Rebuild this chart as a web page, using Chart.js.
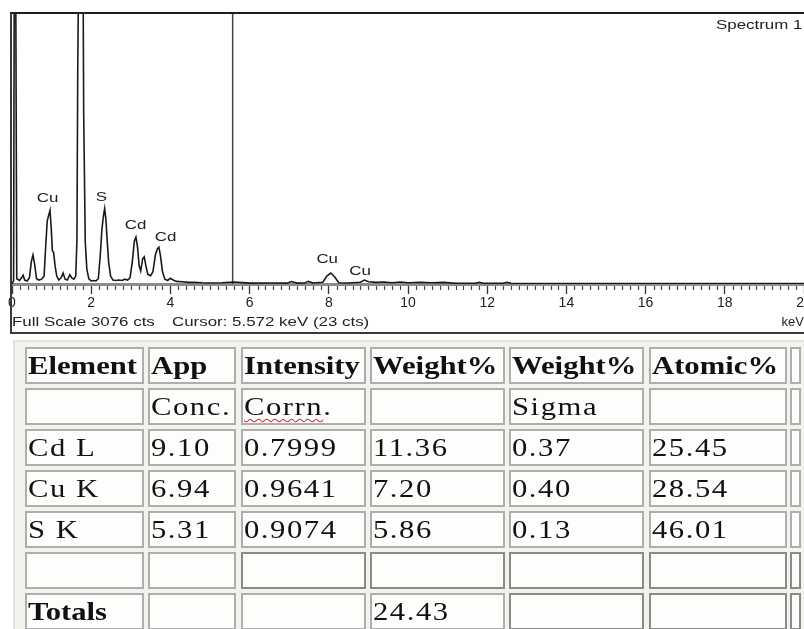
<!DOCTYPE html>
<html>
<head>
<meta charset="utf-8">
<script src="https://cdn.jsdelivr.net/npm/chart.js@4.4.1/dist/chart.umd.min.js"></script>
<style>
html,body{margin:0;padding:0;background:#fff;}
body{width:804px;height:629px;overflow:hidden;position:relative;font-family:"Liberation Sans",Arial,sans-serif;}
#chartWrap{position:absolute;left:0;top:0;width:804px;height:336px;overflow:hidden;}
#c{position:absolute;left:0;top:0;}
#frame{position:absolute;left:10px;top:12px;width:820px;height:318px;border-top:2px solid #1e1e1e;border-left:2px solid #3a3a3a;border-bottom:2px solid #3a3a3a;pointer-events:none;}
.lbl{position:absolute;font-size:13px;line-height:15px;color:#222;white-space:nowrap;transform:scaleX(1.3);transform-origin:0 50%;}
#tableBox{position:absolute;left:13px;top:340px;width:800px;height:300px;border-top:2px solid #e2e2da;border-left:2px solid #e2e2da;background:#f3f3ed;}
.cell{position:absolute;box-sizing:border-box;border:2px solid #aeaeae;background:#fdfdfb;overflow:hidden;}
.cell.dark{border-color:#8a8a8a;}
.txt{position:absolute;left:1px;top:1px;font-family:"Liberation Serif","Times New Roman",serif;font-size:26px;line-height:32px;color:#111;white-space:nowrap;transform:scaleX(1.18);transform-origin:0 50%;letter-spacing:1.3px;}
.txt.b{font-weight:bold;letter-spacing:0;}
.squig{text-decoration:underline wavy #e02a2a;text-decoration-thickness:1px;text-underline-offset:3px;}
</style>
</head>
<body>
<div id="chartWrap"><canvas id="c" width="830" height="334" style="width:830px;height:334px"></canvas></div>
<div id="frame"></div>
<div id="tableBox"></div>
<script>
// ---------- spectrum data ----------
const energyKeV = [0,0.04,0.06,0.09,0.12,0.19,0.24,0.28,0.32,0.38,0.44,0.49,0.53,0.57,0.62,0.68,0.75,0.81,0.85,0.89,0.93,0.96,0.99,1.02,1.05,1.09,1.13,1.18,1.24,1.29,1.34,1.40,1.46,1.51,1.56,1.61,1.64,1.66,1.69,1.79,1.81,1.85,1.89,1.94,2.00,2.06,2.12,2.18,2.23,2.27,2.31,2.34,2.37,2.40,2.44,2.49,2.55,2.62,2.70,2.78,2.85,2.92,2.98,3.04,3.09,3.13,3.17,3.21,3.25,3.30,3.34,3.38,3.43,3.50,3.56,3.62,3.67,3.71,3.75,3.80,3.86,3.93,4.00,4.07,4.15,4.30,4.45,4.60,4.80,5.00,5.30,5.60,6.00,6.50,6.95,7.05,7.20,7.40,7.48,7.60,7.85,7.95,8.05,8.15,8.25,8.50,8.80,8.90,9.00,9.20,9.40,9.60,9.80,10.0,10.3,10.6,10.9,11.2,11.7,11.8,11.9,12.4,12.5,12.6,13.5,15.0,17.0,20.0];
const counts = [0,40,4000,4000,60,40,70,100,45,35,70,260,330,230,60,45,55,90,420,720,790,840,640,380,360,200,90,45,70,125,55,45,105,70,55,90,500,2430,4000,4000,1950,480,170,60,35,40,35,60,330,620,780,860,740,520,250,90,45,40,45,40,55,45,70,260,490,533,420,210,150,290,310,210,110,95,140,330,400,420,320,140,55,40,65,45,30,25,18,20,15,12,15,23,10,12,10,28,10,12,30,12,20,90,125,80,15,12,20,45,25,18,22,15,22,15,20,15,18,8,8,20,8,8,20,8,6,5,5,5];
const fullScaleCts = 3076;
const xMinKeV = 0, xMaxKeV = 20, xMajorStep = 2, xMinorStep = 0.2;
const cursorKeV = 5.572;
const cursorCts = 23;
const peakLabels = ['Cu','S','Cd','Cd','Cu','Cu'];
const peakLabelKeV = [0.90,2.26,3.12,3.88,7.96,8.79];
const peakLabelCts = [980,991,672,535,285,148];
const spectrumName = 'Spectrum 1';
const axisUnit = 'keV';

// ---------- table data ----------
const headRow1 = ['Element','App','Intensity','Weight%','Weight%','Atomic%',''];
const headRow2 = ['','Conc.','Corrn.','','Sigma','',''];
const elements = ['Cd L','Cu K','S K'];
const appConc = ['9.10','6.94','5.31'];
const intensityCorrn = ['0.7999','0.9641','0.9074'];
const weightPct = ['11.36','7.20','5.86'];
const weightPctSigma = ['0.37','0.40','0.13'];
const atomicPct = ['25.45','28.54','46.01'];
const totalsLabel = 'Totals';
const totalWeightPct = '24.43';

// ---------- overlay texts ----------
function addLabel(text, left, top){
  const d = document.createElement('div');
  d.className = 'lbl'; d.textContent = text;
  d.style.left = left + 'px'; d.style.top = top + 'px';
  document.body.appendChild(d);
}
addLabel(spectrumName, 716, 17);
addLabel('Full Scale ' + fullScaleCts + ' cts', 12, 314);
addLabel('Cursor: ' + cursorKeV.toFixed(3) + ' keV (' + cursorCts + ' cts)', 172, 314);

// ---------- chart ----------
const minorTicks = {
  id: 'minorTicks',
  afterDraw(chart){
    const xs = chart.scales.x, ctx = chart.ctx, b = chart.chartArea.bottom;
    ctx.save();
    ctx.strokeStyle = '#444'; ctx.lineWidth = 1.2;
    const n = Math.round((xMaxKeV - xMinKeV) / xMinorStep);
    const per = Math.round(xMajorStep / xMinorStep);
    for (let i = 0; i <= n; i++){
      if (i % per === 0) continue;
      const px = Math.round(xs.getPixelForValue(xMinKeV + i * xMinorStep)) + 0.5;
      ctx.beginPath(); ctx.moveTo(px, b + 2); ctx.lineTo(px, b + 6); ctx.stroke();
    }
    ctx.restore();
  }
};
const peakText = {
  id: 'peakText',
  afterDatasetsDraw(chart){
    const xs = chart.scales.x, ys = chart.scales.y, ctx = chart.ctx;
    ctx.save();
    ctx.font = '13px "Liberation Sans", Arial, sans-serif';
    ctx.fillStyle = '#222'; ctx.textAlign = 'center'; ctx.textBaseline = 'middle';
    peakLabels.forEach((t, i) => {
      ctx.save();
      ctx.translate(xs.getPixelForValue(peakLabelKeV[i]), ys.getPixelForValue(peakLabelCts[i]));
      ctx.scale(1.3, 1);
      ctx.fillText(t, 0, 0);
      ctx.restore();
    });
    ctx.restore();
  }
};

new Chart(document.getElementById('c'), {
  type: 'line',
  data: {
    datasets: [
      { label: 'spectrum', data: energyKeV.map((e, i) => ({x: e, y: counts[i]})),
        borderColor: '#1a1a1a', borderWidth: 1.6, pointRadius: 0, tension: 0, fill: false },
      { label: 'cursor', data: [{x: cursorKeV, y: 0}, {x: cursorKeV, y: fullScaleCts}],
        borderColor: '#444', borderWidth: 1.5, pointRadius: 0, fill: false }
    ]
  },
  options: {
    responsive: false, animation: false, devicePixelRatio: 1,
    layout: { padding: { left: 12, top: 14, right: 26, bottom: 0 } },
    plugins: { legend: { display: false }, tooltip: { enabled: false } },
    scales: {
      x: {
        type: 'linear', min: xMinKeV, max: xMaxKeV,
        ticks: { stepSize: xMajorStep, autoSkip: false, maxRotation: 0, padding: 1,
                 color: '#222', font: { size: 14, family: '"Liberation Sans", Arial, sans-serif' },
                 callback: v => String(v) },
        grid: { drawOnChartArea: false, tickLength: 10, tickColor: '#333', tickWidth: 1.3 },
        border: { display: true, color: '#8c8c8c', width: 3 },
        title: { display: true, text: axisUnit, align: 'end', color: '#222',
                 font: { size: 13, family: '"Liberation Sans", Arial, sans-serif' },
                 padding: { top: 0, bottom: 4 } },
        afterFit: s => { s.height = 50; }
      },
      y: { type: 'linear', min: 0, max: fullScaleCts, display: false }
    }
  },
  plugins: [minorTicks, peakText]
});

// ---------- table ----------
const colLeft = [25,148,241,370,509,649,790];
const colRight = [144,236,366,505,644,787,801];
const rowTop = [347,388,429,470,511,552,593];
const rowH = 37;
const rows = [headRow1, headRow2];
elements.forEach((el, i) => rows.push([el, appConc[i], intensityCorrn[i], weightPct[i], weightPctSigma[i], atomicPct[i], '']));
rows.push(['','','','','','','']);
rows.push([totalsLabel,'','',totalWeightPct,'','','']);
rows.forEach((r, ri) => {
  r.forEach((val, ci) => {
    const c = document.createElement('div');
    c.className = 'cell';
    if ((ri === 5 && ci >= 2) || (ri === 6 && ci >= 4)) c.classList.add('dark');
    c.style.left = colLeft[ci] + 'px'; c.style.top = rowTop[ri] + 'px';
    c.style.width = (colRight[ci] - colLeft[ci]) + 'px'; c.style.height = rowH + 'px';
    if (val !== ''){
      const t = document.createElement('span');
      t.className = 'txt';
      if (ri === 0 || (ri === 6 && ci === 0)) t.classList.add('b');
      if (val === 'Corrn.'){
        const s = document.createElement('span'); s.className = 'squig'; s.textContent = 'Corrn';
        t.appendChild(s); t.appendChild(document.createTextNode('.'));
      } else t.textContent = val;
      c.appendChild(t);
    }
    document.body.appendChild(c);
  });
});
</script>
</body>
</html>
